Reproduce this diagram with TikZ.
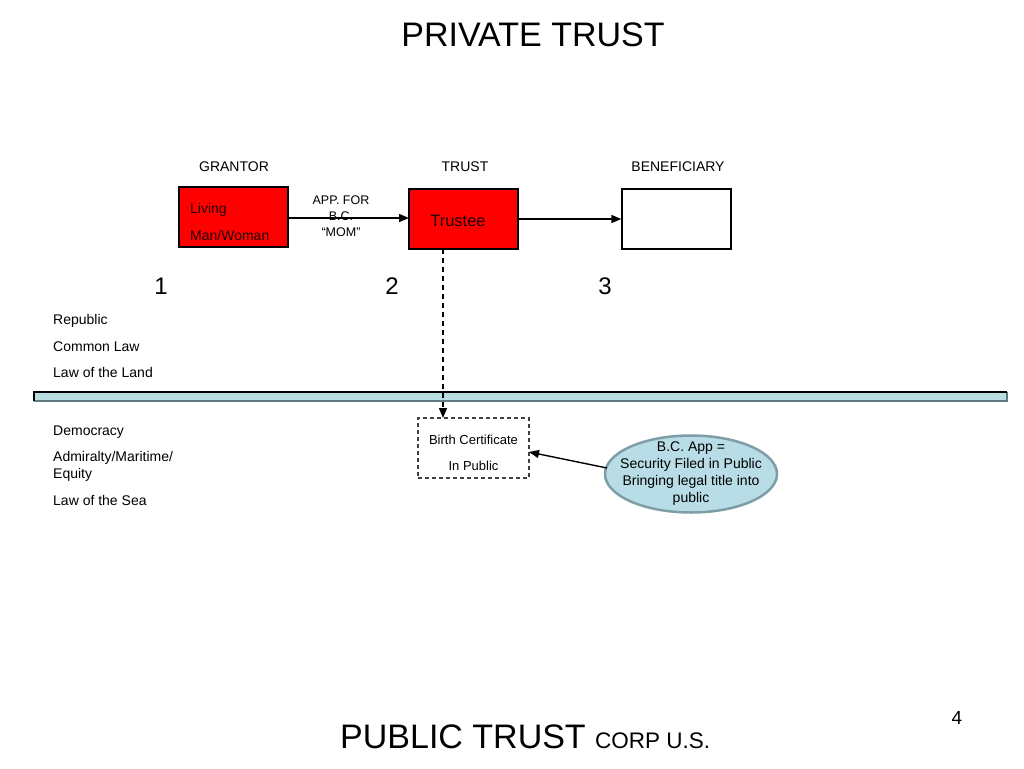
\documentclass[tikz,border=0pt]{standalone}
\usepackage{fontspec}
\setmainfont{Liberation Sans}
\usetikzlibrary{arrows.meta,shapes.geometric}
\definecolor{bandfill}{HTML}{B9DEE0}
\definecolor{bandedge}{HTML}{5E7B7E}
\definecolor{ellfill}{HTML}{B8DDE6}
\definecolor{elledge}{HTML}{7F9DA6}
\definecolor{redtext}{HTML}{200000}
\tikzset{
  lbl/.style={font=\fontsize{14}{16}\selectfont, inner sep=0pt},
  redbox/.style={draw=black, fill=red, line width=1.3pt, minimum width=109, minimum height=60, inner sep=0pt},
  whitebox/.style={draw=black, fill=white, line width=1.3pt, minimum width=109, minimum height=60, inner sep=0pt},
  dashbox/.style={draw=black!75, dashed, dash pattern=on 4pt off 3pt, line width=1.3pt, minimum width=111, minimum height=60, inner sep=0pt},
  num/.style={font=\fontsize{24}{28}\selectfont, inner sep=0pt},
  conn/.style={-{Triangle[length=10pt,width=8pt]}, line width=1.4pt},
}
\begin{document}
\begin{tikzpicture}[x=1pt,y=-1pt]
\useasboundingbox (0,0) rectangle (1024,768);
\fill[white] (0,0) rectangle (1024,768);
% title
\node[inner sep=0pt, font=\fontsize{34}{38}\selectfont] (title) at (533,35) {PRIVATE TRUST};
% column labels
\node[lbl] (lgrant) at (234,167) {GRANTOR};
\node[lbl] (ltrust) at (465,167) {TRUST};
\node[lbl] (lbenef) at (678,167) {BENEFICIARY};
% boxes
\node[redbox] (grantor) at (233.5,217) {};
\node[lbl, anchor=west, text=redtext] (living) at (190,210) {Living};
\node[lbl, anchor=west, text=redtext] (manwoman) at (190,235) {Man/Woman};
\node[redbox] (trustee) at (463.5,219) {};
\node[inner sep=0pt, font=\fontsize{16.5}{18}\selectfont, text=redtext] (trusteetext) at (458,221) {Trustee};
\node[whitebox] (benef) at (676.5,219) {};
% arrows
\coordinate (g1) at (288,218);
\coordinate (t1) at (409,218);
\draw[conn] (g1) -- (t1);
\draw[conn] (trustee.east) -- (benef.west);
\node[lbl, align=center, font=\fontsize{12.5}{16}\selectfont] (app) at (341,216) {APP. FOR\\B.C.\\“MOM”};
% numbers
\node[num] (n1) at (161,286) {1};
\node[num] (n2) at (392,286) {2};
\node[num] (n3) at (605,286) {3};
% upper list
\node[lbl, anchor=west] (rep) at (53,321) {Republic};
\node[lbl, anchor=west] (cl) at (53,347) {Common Law};
\node[lbl, anchor=west] (lol) at (53,372) {Law of the Land};
% band
\fill[bandfill] (34,392) rectangle (1007,401);
\draw[bandedge, line width=2pt] (34,401) -- (1007,401) -- (1007,392);
\draw[black, line width=1.3pt] (34,401) -- (34,392) -- (1007,392);
% lower list
\node[lbl, anchor=west] (dem) at (53,432) {Democracy};
\node[lbl, anchor=west] (adm) at (53,458) {Admiralty/Maritime/};
\node[lbl, anchor=west] (eq) at (53,475) {Equity};
\node[lbl, anchor=west] (los) at (53,500) {Law of the Sea};
% birth certificate
\node[dashbox] (bc) at (473.5,448) {};
\node[lbl, font=\fontsize{13}{15}\selectfont] (bct1) at (473.5,440) {Birth Certificate};
\node[lbl, font=\fontsize{13}{15}\selectfont] (bct2) at (473.5,466) {In Public};
\coordinate (tdown) at (443,249);
\coordinate (bctop) at (443,418);
\draw[conn, dashed, dash pattern=on 5pt off 4pt] (tdown) -- (bctop);
% ellipse
\node[ellipse, draw=elledge, fill=ellfill, line width=2.5pt, minimum width=172, minimum height=77, inner sep=0pt] (ell) at (691,474) {};
\node[lbl, align=center, font=\fontsize{14}{17}\selectfont] (elltext) at (691,474) {B.C. App =\\Security Filed in Public\\Bringing legal title into\\public};
\coordinate (ellleft) at (607,468);
\coordinate (bcright) at (529,452);
\draw[conn] (ellleft) -- (bcright);
% bottom
\node[inner sep=0pt, anchor=base west, font=\fontsize{34}{38}\selectfont] (pub) at (340,748) {PUBLIC TRUST {\fontsize{22.5}{24}\selectfont CORP U.S.}};
\node[inner sep=0pt, font=\fontsize{19}{20}\selectfont] (pg) at (957,718) {4};
\end{tikzpicture}
\end{document}
